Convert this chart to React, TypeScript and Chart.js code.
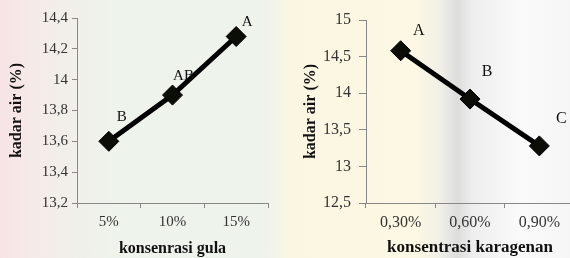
import React, { useEffect, useRef } from "react";
import { Chart, registerables } from "chart.js";

Chart.register(...registerables);

// Left chart data
const sugarCategories = ["5%", "10%", "15%"];
const sugarValues = [13.6, 13.9, 14.28];
const sugarLetters = ["B", "AB", "A"];

// Right chart data
const carrageenanCategories = ["0,30%", "0,60%", "0,90%"];
const carrageenanValues = [14.58, 13.92, 13.28];
const carrageenanLetters = ["A", "B", "C"];

const FONT = "'Liberation Serif', 'Times New Roman', serif";

const fmt = (v: number) => {
  const r = Math.round(v * 10) / 10;
  return String(r).replace(".", ",");
};

type Cfg = {
  labels: string[];
  values: number[];
  letters: string[];
  offsets: [number, number][];
  min: number;
  max: number;
  step: number;
  xTitle: string;
  yWidth: number;
  pad: { top: number; right: number };
  tickSize: number;
  titleSize: number;
  yTitlePad: number;
  yTickLen: number;
  yTickPad: number;
};

function makeChart(canvas: HTMLCanvasElement, c: Cfg) {
  const letterPlugin = {
    id: "letters",
    afterDatasetsDraw(chart: any) {
      const meta = chart.getDatasetMeta(0);
      const ctx = chart.ctx;
      ctx.save();
      ctx.font = `${c.tickSize}px ${FONT}`;
      ctx.fillStyle = "#111";
      ctx.textAlign = "center";
      ctx.textBaseline = "middle";
      meta.data.forEach((el: any, i: number) => {
        const [dx, dy] = c.offsets[i];
        ctx.fillText(c.letters[i], el.x + dx, el.y + dy);
      });
      ctx.restore();
    },
  };
  return new Chart(canvas, {
    type: "line",
    data: {
      labels: c.labels,
      datasets: [
        {
          data: c.values,
          borderColor: "#000",
          borderWidth: 5,
          pointStyle: "rectRot",
          pointRadius: 10,
          pointBackgroundColor: "#0d0d08",
          pointBorderColor: "#000",
          pointBorderWidth: 1,
          tension: 0,
        },
      ],
    },
    options: {
      responsive: false,
      animation: false,
      layout: { padding: { top: c.pad.top, right: c.pad.right, left: 0, bottom: 0 } },
      plugins: { legend: { display: false }, tooltip: { enabled: false } },
      scales: {
        x: {
          offset: true,
          grid: {
            offset: true,
            drawOnChartArea: false,
            drawTicks: true,
            tickLength: 5,
            color: "#888",
          },
          border: { color: "#888", width: 1 },
          ticks: { color: "#333", font: { family: FONT, size: c.tickSize }, padding: 5 },
          title: {
            display: true,
            text: c.xTitle,
            color: "#111",
            font: { family: FONT, size: c.titleSize, weight: "bold" },
            padding: { top: 0, bottom: 0 },
          },
          afterFit: (s: any) => {
            s.height = 55;
          },
        },
        y: {
          min: c.min,
          max: c.max,
          grid: {
            drawOnChartArea: false,
            drawTicks: true,
            tickLength: c.yTickLen,
            color: "#888",
          },
          border: { color: "#888", width: 1 },
          ticks: {
            stepSize: c.step,
            color: "#333",
            font: { family: FONT, size: c.tickSize },
            padding: c.yTickPad,
            callback: (v: any) => fmt(Number(v)),
          },
          title: {
            display: true,
            text: "kadar air (%)",
            color: "#111",
            font: { family: FONT, size: 16, weight: "bold" },
            padding: { top: c.yTitlePad, bottom: 0 },
          },
          afterFit: (s: any) => {
            s.width = c.yWidth;
          },
        },
      },
    },
    plugins: [letterPlugin],
  } as any);
}

export default function App() {
  const leftRef = useRef<HTMLCanvasElement>(null);
  const rightRef = useRef<HTMLCanvasElement>(null);

  useEffect(() => {
    document.body.style.margin = "0";
    const a = makeChart(leftRef.current!, {
      labels: sugarCategories,
      values: sugarValues,
      letters: sugarLetters,
      offsets: [
        [13, -24],
        [11, -19],
        [11, -14],
      ],
      min: 13.2,
      max: 14.4,
      step: 0.2,
      xTitle: "konsenrasi gula",
      yWidth: 77,
      pad: { top: 18, right: 17 },
      tickSize: 15,
      titleSize: 16,
      yTitlePad: 7,
      yTickLen: 5,
      yTickPad: 4,
    });
    const b = makeChart(rightRef.current!, {
      labels: carrageenanCategories,
      values: carrageenanValues,
      letters: carrageenanLetters,
      offsets: [
        [18, -20],
        [17, -27],
        [22, -27],
      ],
      min: 12.5,
      max: 15,
      step: 0.5,
      xTitle: "konsentrasi karagenan",
      yWidth: 81,
      pad: { top: 20, right: 0 },
      tickSize: 16,
      titleSize: 17,
      yTitlePad: 16,
      yTickLen: 7,
      yTickPad: 8,
    });
    return () => {
      a.destroy();
      b.destroy();
    };
  }, []);

  return (
    <div
      style={{
        position: "absolute",
        left: 0,
        top: 0,
        width: 570,
        height: 258,
        overflow: "hidden",
        background:
          "linear-gradient(90deg, #f8e4e6 0px, #f4ece8 40px, #eef3ec 110px, #eef3ec 265px, #fbf6e2 290px, #fdf8e3 415px, #f1efe8 440px, #dddddd 458px, #eeeeee 472px, #fafafa 520px, #f6f6f6 570px)",
      }}
    >
      <canvas
        ref={leftRef}
        width={285}
        height={258}
        style={{ position: "absolute", left: 0, top: 0 }}
      />
      <canvas
        ref={rightRef}
        width={300}
        height={258}
        style={{ position: "absolute", left: 285, top: 0 }}
      />
    </div>
  );
}
